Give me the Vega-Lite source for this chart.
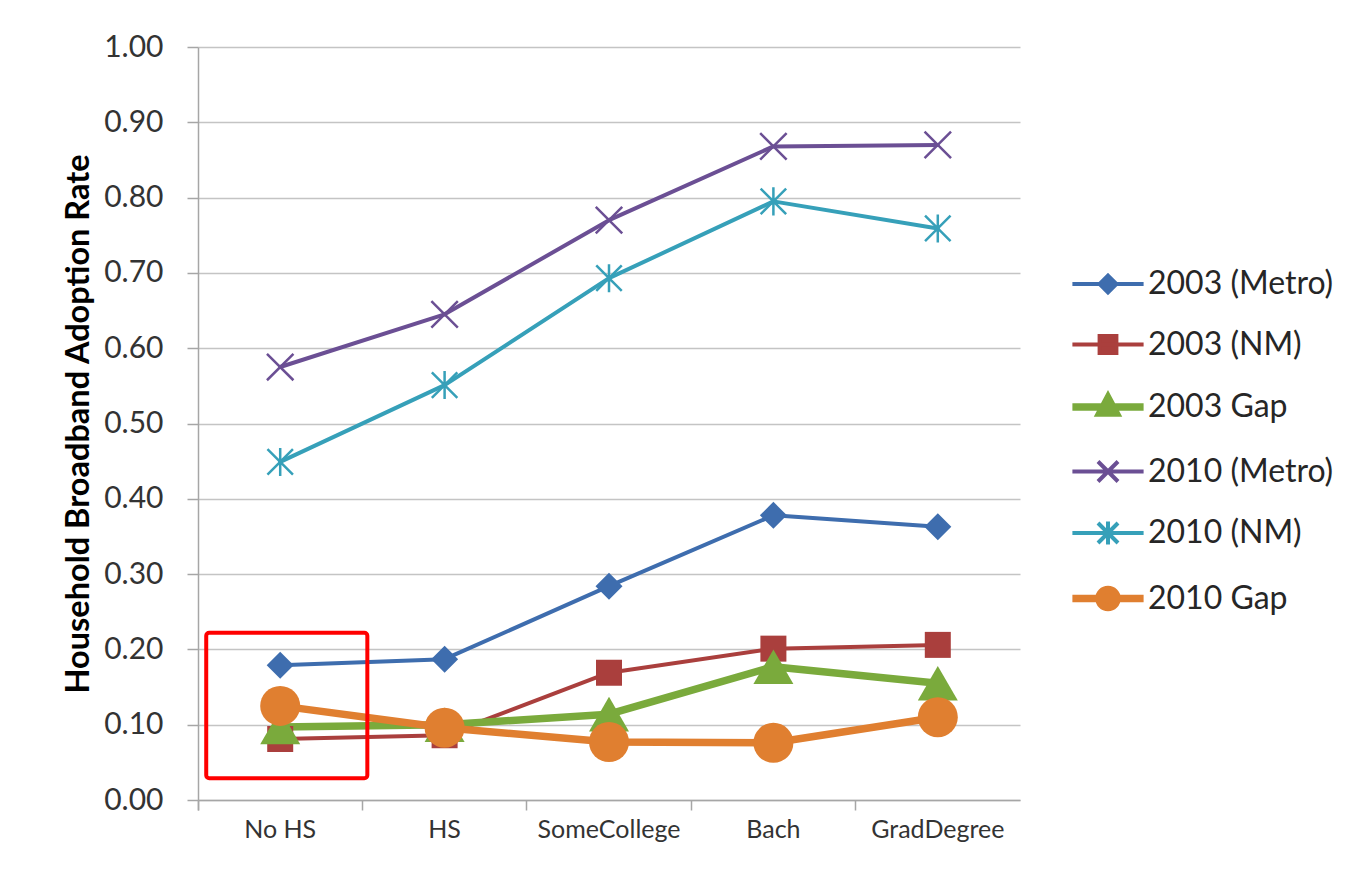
{
  "$schema": "https://vega.github.io/schema/vega-lite/v6.json",
  "autosize": "none",
  "width": 822,
  "height": 753,
  "padding": {"left": 198, "top": 47, "right": 332, "bottom": 69},
  "background": "white",
  "config": {
    "view": {"stroke": null},
    "font": "Lato",
    "legend": {
      "orient": "none",
      "legendX": 886,
      "legendY": 215,
      "padding": 0,
      "symbolSize": 1600,
      "symbolStrokeWidth": 4,
      "labelFont": "Lato",
      "labelFontSize": 32,
      "labelColor": "#262626",
      "labelOffset": 16,
      "rowPadding": 21.5,
      "labelLimit": 400
    }
  },
  "datasets": {
    "rates": [
      {"edu": "No HS", "series": "2003 (Metro)", "rate": 0.179},
      {"edu": "HS", "series": "2003 (Metro)", "rate": 0.187},
      {"edu": "SomeCollege", "series": "2003 (Metro)", "rate": 0.284},
      {"edu": "Bach", "series": "2003 (Metro)", "rate": 0.378},
      {"edu": "GradDegree", "series": "2003 (Metro)", "rate": 0.363},
      {"edu": "No HS", "series": "2003 (NM)", "rate": 0.081},
      {"edu": "HS", "series": "2003 (NM)", "rate": 0.086},
      {"edu": "SomeCollege", "series": "2003 (NM)", "rate": 0.169},
      {"edu": "Bach", "series": "2003 (NM)", "rate": 0.201},
      {"edu": "GradDegree", "series": "2003 (NM)", "rate": 0.206},
      {"edu": "No HS", "series": "2003 Gap", "rate": 0.097},
      {"edu": "HS", "series": "2003 Gap", "rate": 0.100},
      {"edu": "SomeCollege", "series": "2003 Gap", "rate": 0.114},
      {"edu": "Bach", "series": "2003 Gap", "rate": 0.177},
      {"edu": "GradDegree", "series": "2003 Gap", "rate": 0.155},
      {"edu": "No HS", "series": "2010 (Metro)", "rate": 0.575},
      {"edu": "HS", "series": "2010 (Metro)", "rate": 0.645},
      {"edu": "SomeCollege", "series": "2010 (Metro)", "rate": 0.770},
      {"edu": "Bach", "series": "2010 (Metro)", "rate": 0.868},
      {"edu": "GradDegree", "series": "2010 (Metro)", "rate": 0.870},
      {"edu": "No HS", "series": "2010 (NM)", "rate": 0.449},
      {"edu": "HS", "series": "2010 (NM)", "rate": 0.551},
      {"edu": "SomeCollege", "series": "2010 (NM)", "rate": 0.693},
      {"edu": "Bach", "series": "2010 (NM)", "rate": 0.795},
      {"edu": "GradDegree", "series": "2010 (NM)", "rate": 0.759},
      {"edu": "No HS", "series": "2010 Gap", "rate": 0.125},
      {"edu": "HS", "series": "2010 Gap", "rate": 0.096},
      {"edu": "SomeCollege", "series": "2010 Gap", "rate": 0.077},
      {"edu": "Bach", "series": "2010 Gap", "rate": 0.076},
      {"edu": "GradDegree", "series": "2010 Gap", "rate": 0.110}
    ],
    "highlight": [
      {"label": "No HS"}
    ]
  },
  "resolve": {"scale": {"x": "independent"}},
  "layer": [
    {
      "data": {"name": "rates"},
      "encoding": {
        "x": {
          "field": "edu",
          "type": "nominal",
          "scale": {"type": "band", "domain": ["No HS", "HS", "SomeCollege", "Bach", "GradDegree"], "paddingInner": 0, "paddingOuter": 0},
          "axis": {
            "title": null,
            "labelAngle": 0,
            "bandPosition": 0,
            "tickExtra": true,
            "ticks": true,
            "tickSize": 10,
            "tickWidth": 1.5,
            "tickColor": "#a6a6a6",
            "domain": true,
            "domainColor": "#a6a6a6",
            "domainWidth": 1.5,
            "grid": false,
            "labelFont": "Lato",
            "labelFontSize": 25,
            "labelColor": "#333333",
            "labelPadding": 7
          }
        },
        "y": {
          "field": "rate",
          "type": "quantitative",
          "scale": {"domain": [0, 1], "nice": false, "zero": true},
          "axis": {
            "title": "Household Broadband Adoption Rate",
            "titleFont": "Lato",
            "titleFontSize": 32.5,
            "titleFontWeight": "bold",
            "titleColor": "#000000",
            "titlePadding": 8,
            "values": [0, 0.1, 0.2, 0.3, 0.4, 0.5, 0.6, 0.7, 0.8, 0.9, 1.0],
            "format": ".2f",
            "grid": true,
            "gridColor": "#c4c4c4",
            "gridWidth": 1.5,
            "domain": true,
            "domainColor": "#a6a6a6",
            "domainWidth": 1.5,
            "ticks": true,
            "tickSize": 11,
            "tickWidth": 1.5,
            "tickColor": "#a6a6a6",
            "labelFont": "Lato",
            "labelFontSize": 30,
            "labelColor": "#333333",
            "labelPadding": 24
          }
        }
      },
      "layer": [
        {
          "transform": [{"filter": "false"}],
          "mark": {"type": "point", "filled": true, "opacity": 1},
          "encoding": {
            "shape": {
              "field": "series",
              "type": "nominal",
              "title": null,
              "scale": {
                "domain": ["2003 (Metro)", "2003 (NM)", "2003 Gap", "2010 (Metro)", "2010 (NM)", "2010 Gap"],
                "range": [
                  "M-1.78,0H1.78M0,-0.42L0.42,0L0,0.42L-0.42,0Z",
                  "M-1.78,0H1.78M-0.42,-0.42H0.42V0.42H-0.42Z",
                  "M-1.78,0H1.78M0,-0.45L0.4,0.3H-0.4Z",
                  "M-1.78,0H1.78M-0.5,-0.5L0.5,0.5M-0.5,0.5L0.5,-0.5",
                  "M-1.78,0H1.78M-0.5,-0.5L0.5,0.5M-0.5,0.5L0.5,-0.5M0,-0.58V0.58",
                  "M-1.78,0H1.78M0.45,0A0.45,0.45,0,1,1,-0.45,0A0.45,0.45,0,1,1,0.45,0Z"
                ]
              },
              "legend": {
                "encode": {
                  "symbols": {
                    "update": {
                      "strokeWidth": {"scale": "strokeWidth", "field": "value"}
                    }
                  }
                }
              }
            },
            "fill": {"field": "series", "type": "nominal", "title": null},
            "stroke": {"field": "series", "type": "nominal", "title": null}
          }
        },
        {
          "mark": {"type": "line", "strokeJoin": "round", "strokeCap": "round"},
          "encoding": {
            "detail": {"field": "series", "type": "nominal"},
            "stroke": {
              "field": "series",
              "type": "nominal",
              "title": null,
              "scale": {
                "domain": ["2003 (Metro)", "2003 (NM)", "2003 Gap", "2010 (Metro)", "2010 (NM)", "2010 Gap"],
                "range": ["#3E6DAE", "#AA3F3D", "#7AAA3C", "#6B4F94", "#36A0B9", "#E07F30"]
              }
            },
            "strokeWidth": {
              "field": "series",
              "type": "nominal",
              "title": null,
              "legend": null,
              "scale": {
                "type": "ordinal",
                "domain": ["2003 (Metro)", "2003 (NM)", "2003 Gap", "2010 (Metro)", "2010 (NM)", "2010 Gap"],
                "range": [4, 4, 7.5, 4, 4, 7.5]
              }
            }
          }
        },
        {
          "transform": [{"filter": "datum.series === '2003 (Metro)'"}],
          "mark": {"type": "point", "shape": "diamond", "size": 729, "filled": true, "opacity": 1},
          "encoding": {
            "fill": {
              "field": "series",
              "type": "nominal",
              "title": null,
              "scale": {
                "domain": ["2003 (Metro)", "2003 (NM)", "2003 Gap", "2010 (Metro)", "2010 (NM)", "2010 Gap"],
                "range": ["#3E6DAE", "#AA3F3D", "#7AAA3C", "#6B4F94", "#36A0B9", "#E07F30"]
              }
            }
          }
        },
        {
          "transform": [{"filter": "datum.series === '2003 (NM)'"}],
          "mark": {"type": "point", "shape": "square", "size": 676, "filled": true, "opacity": 1},
          "encoding": {"fill": {"field": "series", "type": "nominal", "title": null}}
        },
        {
          "transform": [{"filter": "datum.series === '2003 Gap'"}],
          "mark": {"type": "point", "shape": "triangle-up", "size": 1600, "filled": true, "opacity": 1},
          "encoding": {"fill": {"field": "series", "type": "nominal", "title": null}}
        },
        {
          "transform": [{"filter": "datum.series === '2010 (Metro)'"}],
          "mark": {"type": "point", "shape": "M-1,-1L1,1M-1,1L1,-1", "size": 700, "filled": false, "strokeWidth": 2.5, "opacity": 1},
          "encoding": {"stroke": {"field": "series", "type": "nominal", "title": null}}
        },
        {
          "transform": [{"filter": "datum.series === '2010 (NM)'"}],
          "mark": {"type": "point", "shape": "M-1,-1L1,1M-1,1L1,-1M0,-1.1V1.1", "size": 650, "filled": false, "strokeWidth": 2.5, "opacity": 1},
          "encoding": {"stroke": {"field": "series", "type": "nominal", "title": null}}
        },
        {
          "transform": [{"filter": "datum.series === '2010 Gap'"}],
          "mark": {"type": "point", "shape": "circle", "size": 1600, "filled": true, "opacity": 1},
          "encoding": {"fill": {"field": "series", "type": "nominal", "title": null}}
        }
      ]
    },
    {
      "data": {"name": "highlight"},
      "mark": {"type": "rect", "filled": false, "stroke": "#FF0000", "strokeWidth": 4, "cornerRadius": 3},
      "encoding": {
        "x": {"datum": 0.05, "type": "quantitative", "scale": {"domain": [0, 5], "nice": false, "zero": false}, "axis": null},
        "x2": {"datum": 1.03},
        "y": {"datum": 0.029, "type": "quantitative"},
        "y2": {"datum": 0.222}
      }
    }
  ]
}
